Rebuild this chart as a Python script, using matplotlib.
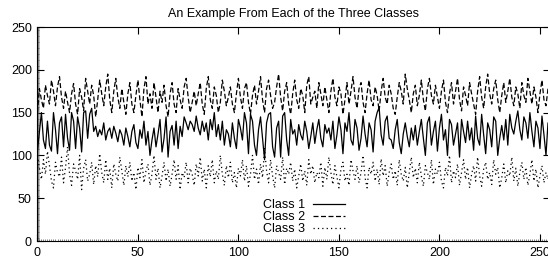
import matplotlib
matplotlib.use("Agg")
import matplotlib.pyplot as plt
from matplotlib.ticker import MultipleLocator
import numpy as np

plt.rcParams['font.family'] = ['Liberation Sans', 'DejaVu Sans']

title = "An Example From Each of the Three Classes"
labels = ["Class 1", "Class 2", "Class 3"]
x_ticks = [0, 50, 100, 150, 200, 250]
y_ticks = [0, 50, 100, 150, 200, 250]

class1 = [105, 128, 150, 118, 108, 140, 112, 105, 150, 130, 102, 138, 145, 110, 148, 120,
          106, 150, 140, 108, 145, 132, 104, 150, 152, 120, 148, 155, 128, 134, 122, 130,
          124, 138, 118, 128, 132, 120, 134, 126, 116, 130, 124, 112, 132, 122, 110, 128,
          136, 115, 108, 130, 120, 140, 112, 128, 100, 118, 132, 110, 125, 142, 104, 120,
          145, 98, 128, 135, 112, 140, 108, 134, 122, 145, 138, 130, 140, 136, 128, 146,
          132, 124, 140, 128, 138, 118, 142, 130, 150, 122, 136, 118, 140, 112, 130, 125,
          110, 138, 120, 108, 142, 132, 118, 150, 138, 102, 148, 140, 112, 100, 130, 145,
          120, 95, 138, 148, 150, 110, 98, 132, 140, 98, 146, 150, 118, 100, 142, 125,
          130, 112, 136, 124, 118, 140, 128, 108, 122, 138, 114, 130, 142, 120, 110, 136,
          126, 132, 118, 140, 108, 124, 145, 130, 102, 138, 128, 150, 118, 112, 142, 132,
          106, 120, 146, 125, 110, 138, 130, 104, 140, 150, 156, 124, 112, 140, 146, 120,
          118, 108, 130, 142, 115, 102, 125, 138, 122, 110, 132, 118, 135, 112, 128, 142,
          120, 100, 138, 145, 112, 128, 140, 105, 132, 148, 118, 130, 100, 142, 136, 112,
          125, 138, 98, 142, 128, 115, 140, 118, 132, 106, 146, 120, 112, 148, 124, 102,
          138, 130, 110, 145, 140, 100, 120, 135, 118, 142, 112, 148, 132, 125, 140, 152,
          130, 118, 145, 138, 120, 150, 128, 110, 140, 132, 108, 146, 124, 100, 138, 115]

class2 = [150, 178, 165, 155, 182, 170, 160, 188, 175, 158, 180, 192, 168, 155, 175, 162,
          150, 172, 184, 160, 148, 178, 168, 152, 190, 175, 160, 182, 170, 145, 165, 188,
          172, 158, 180, 195, 165, 150, 175, 190, 168, 155, 178, 162, 148, 172, 185, 160,
          150, 170, 188, 165, 145, 178, 192, 160, 172, 155, 185, 168, 150, 175, 162, 182,
          158, 145, 172, 185, 160, 150, 178, 165, 155, 180, 190, 168, 150, 162, 175, 158,
          172, 185, 160, 148, 178, 192, 165, 155, 180, 170, 150, 162, 188, 175, 158, 168,
          180, 160, 150, 172, 190, 168, 155, 178, 185, 162, 148, 170, 182, 160, 175, 192,
          165, 150, 178, 188, 170, 155, 162, 180, 195, 168, 152, 175, 185, 160, 148, 172,
          188, 165, 155, 178, 170, 150, 182, 192, 160, 168, 175, 155, 185, 172, 158, 180,
          165, 150, 175, 190, 168, 158, 180, 172, 148, 165, 185, 160, 175, 192, 168, 155,
          178, 185, 162, 150, 172, 188, 165, 158, 180, 170, 152, 175, 190, 168, 160, 182,
          172, 155, 148, 168, 185, 175, 160, 195, 178, 165, 150, 172, 182, 158, 170, 188,
          165, 152, 178, 190, 170, 160, 182, 168, 155, 175, 188, 162, 150, 172, 185, 160,
          175, 190, 165, 152, 180, 170, 158, 185, 172, 160, 148, 175, 192, 168, 155, 180,
          195, 172, 160, 178, 188, 165, 150, 170, 185, 162, 175, 190, 168, 158, 180, 172,
          155, 185, 170, 162, 190, 175, 160, 180, 168, 150, 172, 188, 165, 158, 178, 170]

class3 = [100, 85, 72, 95, 78, 105, 88, 70, 62, 92, 80, 75, 98, 68, 86, 110,
          78, 65, 90, 82, 72, 100, 60, 85, 95, 70, 78, 92, 66, 88, 75, 102,
          80, 68, 95, 72, 85, 62, 90, 78, 70, 98, 82, 65, 88, 75, 92, 70,
          80, 60, 86, 74, 95, 68, 82, 90, 65, 78, 100, 72, 85, 62, 76, 92,
          70, 84, 64, 78, 95, 72, 88, 60, 80, 74, 92, 68, 85, 78, 65, 90,
          76, 98, 70, 84, 62, 88, 75, 95, 68, 82, 72, 100, 78, 65, 88, 74,
          92, 68, 80, 62, 85, 76, 95, 70, 88, 64, 78, 100, 72, 84, 66, 90,
          74, 108, 82, 68, 95, 76, 62, 88, 80, 72, 98, 66, 85, 78, 92, 70,
          84, 62, 76, 90, 70, 82, 65, 95, 78, 88, 68, 80, 74, 92, 64, 86,
          72, 98, 80, 66, 88, 75, 62, 84, 92, 70, 78, 65, 95, 82, 72, 88,
          68, 80, 100, 74, 62, 86, 78, 92, 70, 84, 66, 96, 76, 88, 64, 80,
          90, 72, 82, 65, 95, 78, 70, 86, 62, 80, 98, 74, 85, 68, 92, 76,
          64, 88, 80, 72, 95, 66, 84, 78, 92, 70, 62, 86, 76, 100, 68, 82,
          74, 90, 65, 80, 95, 72, 86, 62, 78, 88, 70, 98, 76, 64, 84, 92,
          72, 80, 66, 95, 78, 86, 62, 74, 90, 68, 82, 76, 98, 70, 85, 64,
          80, 92, 72, 86, 65, 78, 95, 70, 84, 62, 76, 88, 68, 80, 72, 90]

W, H = 548, 263
fig = plt.figure(figsize=(W / 100, H / 100), dpi=100)
x0, x1, ytop, ybot = 37.4, 550.0, 27.0, 241.0
ax = fig.add_axes([x0 / W, (H - ybot) / H, (x1 - x0) / W, (ybot - ytop) / H])

xs = np.arange(len(class1))
styles = [dict(ls='-'), dict(ls=(0, (4, 2))), dict(ls=(0, (1, 2.5)))]
for vals, lab, st in zip([class1, class2, class3], labels, styles):
    ax.plot(xs, vals, color='black', lw=0.9, label=lab, **st)

ax.set_xlim(0, 255)
ax.set_ylim(0, 250)
ax.set_xticks(x_ticks)
ax.set_yticks(y_ticks)
ax.xaxis.set_minor_locator(MultipleLocator(1))
ax.yaxis.set_minor_locator(MultipleLocator(1))
ax.tick_params(which='major', direction='in', length=5, width=0.8, top=True, right=True,
               labelsize=9, pad=4, color='black')
ax.tick_params(which='minor', direction='in', length=1.5, width=0.5, top=False, right=False,
               color='#555555')
for s in ax.spines.values():
    s.set_linewidth(0.8)

ax.set_title(title, fontsize=9, pad=7.5)
leg = ax.legend(loc='lower center', bbox_to_anchor=(0.52, 0.0), frameon=False,
                fontsize=9, markerfirst=False, handlelength=2.6, handletextpad=0.6,
                labelspacing=0.0, borderaxespad=0.05)
for t in leg.get_texts():
    t.set_ha('right')

fig.savefig('out.png', dpi=100)
